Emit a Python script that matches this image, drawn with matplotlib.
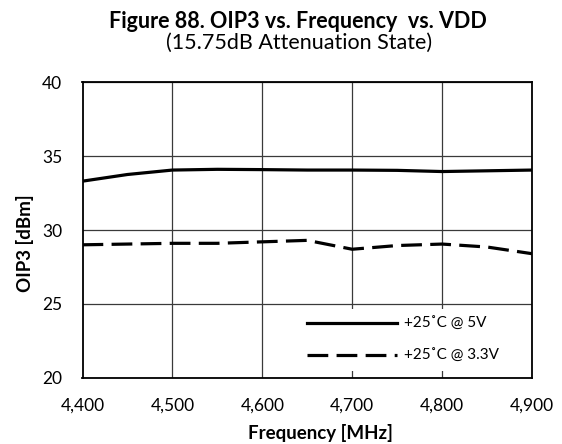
import matplotlib
matplotlib.use("Agg")
import matplotlib.pyplot as plt
from matplotlib.ticker import FuncFormatter

plt.rcParams['font.family'] = ['Lato', 'DejaVu Sans']

freq = [4400, 4450, 4500, 4550, 4600, 4650, 4700, 4750, 4800, 4850, 4900]
oip3_5v = [33.3, 33.75, 34.05, 34.1, 34.08, 34.05, 34.05, 34.03, 33.95, 34.0, 34.05]
oip3_33v = [29.0, 29.05, 29.1, 29.1, 29.2, 29.3, 28.7, 28.95, 29.05, 28.85, 28.4]
labels = ['+25˚C @ 5V', '+25˚C @ 3.3V']

W, H = 562, 444
fig = plt.figure(figsize=(W / 100, H / 100), dpi=100)
# plot box in pixels: left 82.5, right 532, top 82, bottom 378
ax = fig.add_axes([82.5 / W, 1 - 378 / H, (532 - 82.5) / W, (378 - 82) / H])

ax.plot(freq, oip3_5v, color='black', lw=2.3, label=labels[0])
ax.plot(freq, oip3_33v, color='black', lw=2.3, dashes=(6.5, 2.6), label=labels[1])

ax.set_xlim(4400, 4900)
ax.set_ylim(20, 40)
ax.set_xticks(range(4400, 4901, 100))
ax.set_yticks(range(20, 41, 5))
ax.xaxis.set_major_formatter(FuncFormatter(lambda v, p: f'{int(v):,}'))
ax.grid(True, color='#3a3a3a', lw=0.9)
ax.tick_params(axis='x', length=0, labelsize=12.5, pad=14)
ax.tick_params(axis='y', length=0, labelsize=12.5, pad=14.5)
for s in ax.spines.values():
    s.set_linewidth(1.3)

fig.text(320 / W, 1 - 433 / H, 'Frequency [MHz]', ha='center', va='center',
         fontsize=13.5, fontweight='bold')
fig.text(25 / W, 1 - 243 / H, 'OIP3 [dBm]', ha='center', va='center',
         rotation=90, fontsize=13.5, fontweight='bold')

fig.text(298 / W, 1 - 21 / H, 'Figure 88. OIP3 vs. Frequency  vs. VDD', ha='center',
         va='center', fontsize=15.5, fontweight='bold')
fig.text(299 / W, 1 - 43 / H, '(15.75dB Attenuation State)', ha='center',
         va='center', fontsize=15.5)

leg = ax.legend(loc='center left', bbox_to_anchor=(0.482, 0.128), fontsize=11,
                handlelength=5.9, handletextpad=0.45, labelspacing=1.2,
                borderpad=0.5, borderaxespad=0, fancybox=False, framealpha=1,
                facecolor='white', edgecolor='none')

fig.savefig('out.png', dpi=100, facecolor='white')
